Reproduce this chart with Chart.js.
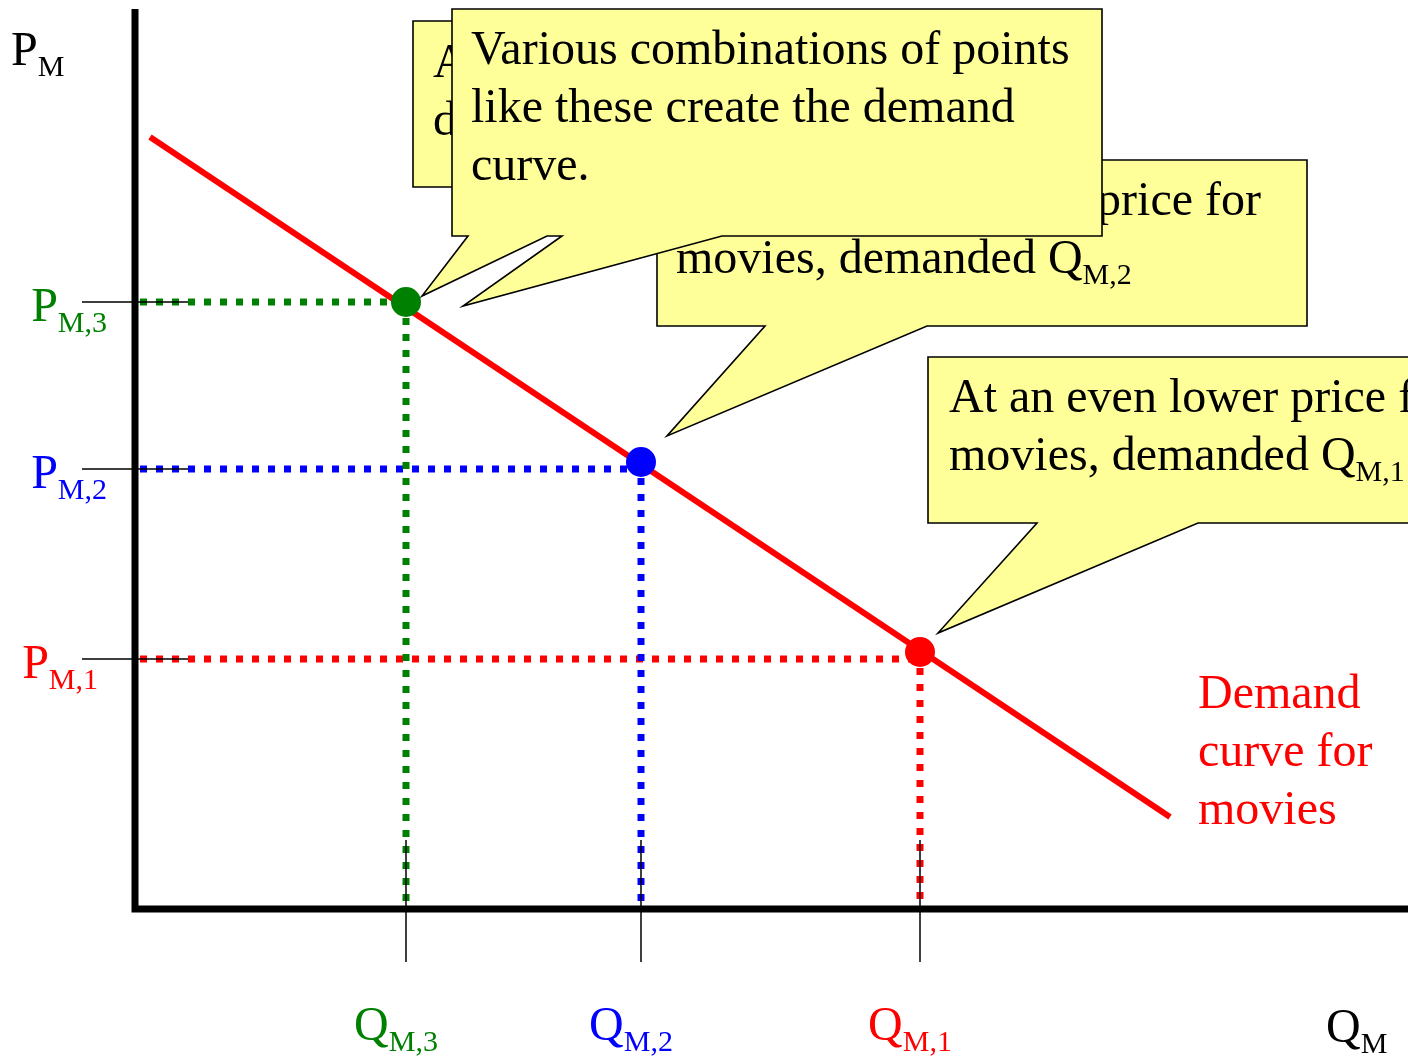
<!DOCTYPE html>
<html>
<head>
<meta charset="utf-8">
<script src="https://cdn.jsdelivr.net/npm/chart.js@4.4.1/dist/chart.umd.min.js"></script>
<style>
  html, body { margin:0; padding:0; background:#fff; }
  #wrap { width:1408px; height:1057px; }
</style>
</head>
<body>
<div id="wrap"><canvas id="chart" width="1408" height="1057"></canvas></div>
<script>
// datos del diagrama (unidades del eje: 1 = 100 px)
const demandQ = [0.15, 10.35];
const demandP = [7.72, 0.92];

const pointQ  = [2.71, 5.06, 7.85];
const pointP  = [6.07, 4.47, 2.57];
const guideP  = [6.07, 4.40, 2.50];

const tickSubs = ['M,3', 'M,2', 'M,1'];
const COLORS   = ['#008000', '#0000ff', '#ff0000'];
const RED      = '#ff0000';
const FONT     = '"Liberation Serif", "Times New Roman", serif';
const YELLOW   = '#ffff99';
const FS       = 48;

// texto con subíndice: 'Q_M,2' -> Q + subíndice M,2
function drawRich(ctx, str, x, y, size, color, align) {
  const [main, sub] = str.split('_');
  const subSize = Math.round(size * 0.62);
  ctx.font = `${size}px ${FONT}`;
  const wMain = ctx.measureText(main).width;
  ctx.font = `${subSize}px ${FONT}`;
  const wSub = sub ? ctx.measureText(sub).width : 0;
  let x0 = x;
  if (align === 'right') x0 = x - wMain - wSub;
  if (align === 'center') x0 = x - (wMain + wSub) / 2;
  ctx.fillStyle = color;
  ctx.textAlign = 'left';
  ctx.textBaseline = 'alphabetic';
  ctx.font = `${size}px ${FONT}`;
  ctx.fillText(main, x0, y);
  if (sub) {
    ctx.font = `${subSize}px ${FONT}`;
    ctx.fillText(sub, x0 + wMain, y + 11);
  }
}

// globo amarillo con colas que salen del borde inferior
function callout(ctx, box, tails) {
  const {x, y, w, h} = box, b = y + h;
  const ts = tails.slice().sort((a, c) => c.b1 - a.b1);
  ctx.beginPath();
  ctx.moveTo(x, y);
  ctx.lineTo(x + w, y);
  ctx.lineTo(x + w, b);
  ts.forEach(t => {
    ctx.lineTo(t.b2, b);
    ctx.lineTo(t.tx, t.ty);
    ctx.lineTo(t.b1, b);
  });
  ctx.lineTo(x, b);
  ctx.closePath();
  ctx.fillStyle = YELLOW;
  ctx.fill();
  ctx.lineWidth = 1.6;
  ctx.strokeStyle = '#000';
  ctx.lineJoin = 'miter';
  ctx.stroke();
}

function textLines(ctx, lines, x, y0, color) {
  lines.forEach((l, i) => drawRich(ctx, l, x, y0 + i * 58, FS, color || '#000'));
}

const overlay = {
  id: 'overlay',
  afterDatasetsDraw(chart) {
    const {ctx, scales:{x, y}, chartArea:ca} = chart;
    ctx.save();
    // ejes
    ctx.strokeStyle = '#000';
    ctx.lineWidth = 7;
    ctx.lineCap = 'butt';
    ctx.beginPath();
    ctx.moveTo(ca.left, ca.top);
    ctx.lineTo(ca.left, ca.bottom + 3.5);
    ctx.moveTo(ca.left - 3.5, ca.bottom);
    ctx.lineTo(chart.width, ca.bottom);
    ctx.stroke();
    // marcas finas
    ctx.lineWidth = 1.5;
    ctx.beginPath();
    guideP.forEach(p => {
      const py = y.getPixelForValue(p);
      ctx.moveTo(82, py); ctx.lineTo(188, py);
    });
    pointQ.forEach(q => {
      const px = x.getPixelForValue(q);
      ctx.moveTo(px, 840); ctx.lineTo(px, 962);
    });
    ctx.stroke();
    ctx.restore();
  },
  afterDraw(chart) {
    const {ctx, scales:{x, y}} = chart;
    const px = i => x.getPixelForValue(pointQ[i]);
    const py = i => y.getPixelForValue(pointP[i]);
    ctx.save();

    // etiquetas de ejes
    drawRich(ctx, 'P_M', 11, 65, FS, '#000');
    drawRich(ctx, 'Q_M', 1326, 1042, FS, '#000');
    guideP.forEach((p, i) => {
      const right = i === 2 ? 98 : 107;
      drawRich(ctx, 'P_' + tickSubs[i], right, y.getPixelForValue(p) + 19, FS, COLORS[i], 'right');
    });
    pointQ.forEach((q, i) => {
      drawRich(ctx, 'Q_' + tickSubs[i], x.getPixelForValue(q) - 10, 1040, FS, COLORS[i], 'center');
    });
    textLines(ctx, ['Demand', 'curve for', 'movies'], 1198, 708, RED);

    // globo de fondo (casi oculto)
    callout(ctx, {x:413, y:21, w:600, h:166}, []);
    textLines(ctx, ['At a high price for movies,', 'demanded Q_M,3'], 433, 77);

    // globo 2
    callout(ctx, {x:657, y:160, w:650, h:166},
      [{b1:765, b2:927, tx:px(1) + 26, ty:py(1) - 26}]);
    drawRich(ctx, 'At a lower price for', 1261, 215, FS, '#000', 'right');
    drawRich(ctx, 'movies, demanded Q_M,2', 676, 273, FS, '#000');

    // globo 3
    callout(ctx, {x:928, y:357, w:520, h:166},
      [{b1:1037, b2:1198, tx:px(2) + 18, ty:py(2) - 19}]);
    textLines(ctx, ['At an even lower price for', 'movies, demanded Q_M,1'], 949, 412);

    // globo principal
    callout(ctx, {x:452, y:9, w:650, h:227}, [
      {b1:468, b2:547, tx:px(0) + 16, ty:py(0) - 6},
      {b1:562, b2:722, tx:px(0) + 57, ty:py(0) + 4}
    ]);
    textLines(ctx, ['Various combinations of points', 'like these create the demand', 'curve.'], 471, 64);
    ctx.restore();
  }
};

const datasets = [];
// puntos
datasets.push({
  data: pointQ.map((q, i) => ({x:q, y:pointP[i]})),
  pointRadius: 15, pointHoverRadius: 15,
  pointBackgroundColor: COLORS, pointBorderWidth: 0,
  showLine: false, order: 0, clip: false
});
// curva de demanda
datasets.push({
  data: demandQ.map((q, i) => ({x:q, y:demandP[i]})),
  showLine: true, borderColor: RED, borderWidth: 6, pointRadius: 0,
  order: 1, clip: false
});
// guías punteadas
pointQ.forEach((q, i) => {
  datasets.push({
    data: [{x:0.05, y:guideP[i]}, {x:q, y:guideP[i]}],
    showLine: true, borderColor: COLORS[i], borderWidth: 7, borderDash: [7, 9],
    borderCapStyle: 'butt', pointRadius: 0, order: 2, clip: false
  });
  datasets.push({
    data: [{x:q, y:pointP[i]}, {x:q, y:0.08}],
    showLine: true, borderColor: COLORS[i], borderWidth: 7, borderDash: [7, 9],
    borderCapStyle: 'butt', pointRadius: 0, order: 2, clip: false
  });
});

new Chart(document.getElementById('chart'), {
  type: 'scatter',
  data: {datasets},
  options: {
    responsive: false,
    animation: false,
    layout: {autoPadding: false, padding: {left:135, top:9, right:0, bottom:148}},
    scales: {
      x: {type:'linear', min:0, max:12.73, display:false},
      y: {type:'linear', min:0, max:9.0, display:false}
    },
    plugins: {legend:{display:false}, tooltip:{enabled:false}}
  },
  plugins: [overlay]
});
</script>
</body>
</html>
